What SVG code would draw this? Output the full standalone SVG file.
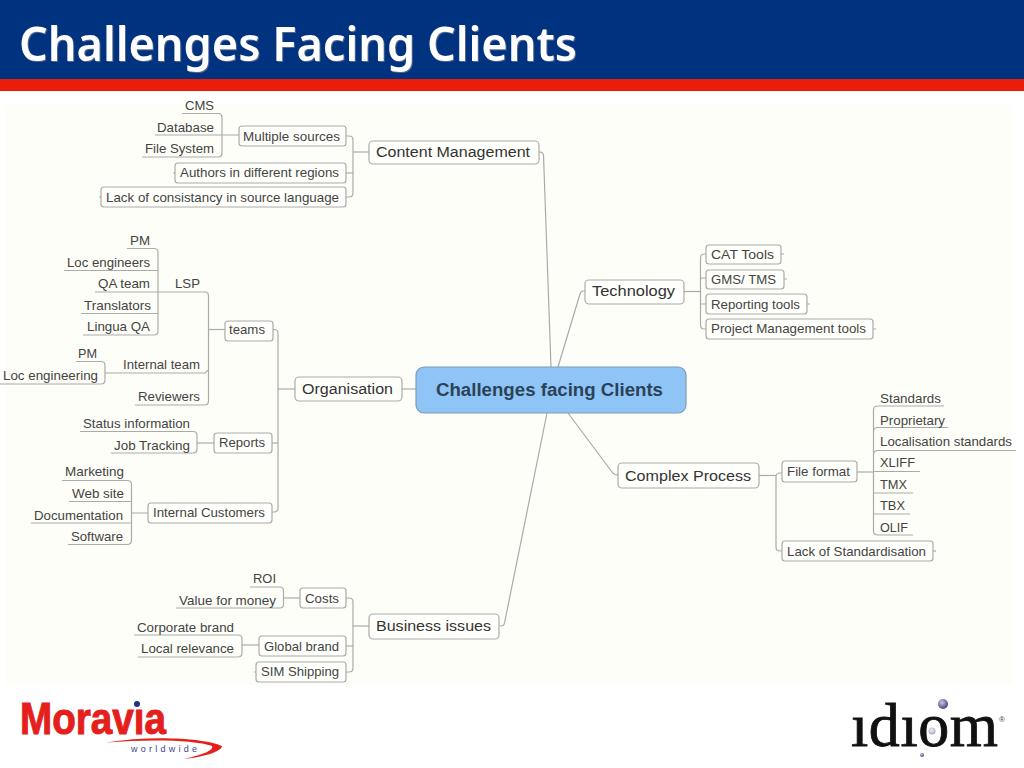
<svg xmlns="http://www.w3.org/2000/svg" width="1024" height="768" viewBox="0 0 1024 768">
<style>
text{font-family:"Liberation Sans",Arial,sans-serif;fill:#444;font-size:13px}
.n rect{fill:#fffffb;stroke:#aaa;stroke-width:1.2}
.m text{font-size:15.5px;fill:#333}
.c path{fill:none;stroke:#aaa;stroke-width:1.2}
</style>
<defs>
<radialGradient id="ball" cx="40%" cy="35%" r="70%"><stop offset="0" stop-color="#c8c8e4"/><stop offset="1" stop-color="#3c3c78"/></radialGradient>
<radialGradient id="ball2" cx="45%" cy="40%" r="70%"><stop offset="0" stop-color="#f2f2f6"/><stop offset="1" stop-color="#9a9ab4"/></radialGradient>
</defs>
<rect width="1024" height="768" fill="#fff"/>
<rect id="panel" x="5" y="105" width="1007" height="580" fill="#fefef8"/>
<rect id="banner" width="1024" height="79" fill="#00337f"/>
<rect id="stripe" y="79" width="1024" height="12" fill="#ec1c0a"/>
<text id="title" x="19" y="61" textLength="558" lengthAdjust="spacingAndGlyphs" style="font-family:'Noto Sans',sans-serif;font-weight:600;font-size:46px;fill:#fff" filter="drop-shadow(1.5px 1.5px 0 #56658f)">Challenges Facing Clients</text>

<g id="connectors" class="c">
<path d="M500 626h1q3 0 3.500-3L547 413"/>
<path d="M539 152h1q3 0 3.500 3L551 367"/>
<path d="M585 291h-2q-2 0-3 3L558 367"/>
<path d="M568 413L612 472q2 3 6 3"/>
<path d="M402 389H416"/>
<path d="M295 389H278"/>
<path d="M369 152H353"/>
<path d="M346 136h3q4 0 4 4V193q0 4-4 4h-3"/>
<path d="M346 173h7"/>
<path d="M175 173h-2M101 197h-2"/>
<path d="M182 113.500h36q4 0 4 4V153q0 4-4 4H142"/>
<path d="M155 135H239"/>
<path d="M127 248.500h27q4 0 4 4V331q0 4-4 4H83"/>
<path d="M64 270.500H158M95 292H204h1q3.500 0 3.500 4V401q0 4-4 4H135M81 313.500H158"/>
<path d="M208.500 329.500H225"/>
<path d="M273 329.500h1q4 0 4 4V508q0 4-4 4h-2"/>
<path d="M272 443h6"/>
<path d="M76 361.500h25q4 0 4 4V380q0 4-4 4H0"/>
<path d="M105 373H205l3.500-3"/>
<path d="M80 431.500H193q4 0 4 4V449q0 4-4 4H111"/>
<path d="M197 443H214"/>
<path d="M62 480.500h65q4.500 0 4.500 4V540q0 4.500-4.500 4.500H68"/>
<path d="M69 501.500H131M31 523H131M132 513H148"/>
<path d="M250 587h30q3.500 0 3.500 4V604q0 4-3.500 4H176"/>
<path d="M284 598H300"/>
<path d="M134 635h104q4 0 4 4V653q0 4-4 4H138"/>
<path d="M242 645H259"/>
<path d="M346 598h3q4 0 4 4V668q0 4-4 4h-3"/>
<path d="M346 646h7"/>
<path d="M353 626H369"/>
<path d="M256 672h-2"/>
<path d="M684 291.500H700"/>
<path d="M706 254h-2q-3.500 0-3.500 4V325q0 4 3.500 4h2"/>
<path d="M700 279q1-1 3-1h3M700 304h6"/>
<path d="M781 254h3M784 279h3M807 304h3M873 329h3"/>
<path d="M759 475.500H776"/>
<path d="M782 473h-2q-4 0-4 4V547q0 4 4 4h2"/>
<path d="M933 551h3"/>
<path d="M857 472H873"/>
<path d="M944 406H878q-4.500 0-4.500 4V531q0 4 4.500 4H913"/>
<path d="M948 427.500H878q-4.500 0-4.500 4"/>
<path d="M1016 450.500H878q-4.500 0-4.500 4"/>
<path d="M920 471.500H873.500M913 493H873.500M910 514H873.500"/>
</g>

<g id="central" class="n"><rect x="416" y="367" width="270" height="46" rx="8" style="fill:#8fc5f6;stroke:#7c9cb8"/><text x="436" y="396" textLength="227" lengthAdjust="spacingAndGlyphs" style="font-size:18px;font-weight:700;fill:#2c4258">Challenges facing Clients</text></g>

<g id="content-management" class="n m"><rect x="369" y="141" width="170" height="23" rx="4"/><text x="376" y="157" textLength="154" lengthAdjust="spacingAndGlyphs">Content Management</text></g>
<g id="organisation" class="n m"><rect x="295" y="377" width="107" height="24" rx="4"/><text x="302" y="394" textLength="91" lengthAdjust="spacingAndGlyphs">Organisation</text></g>
<g id="business-issues" class="n m"><rect x="369" y="614" width="130" height="25" rx="4"/><text x="376" y="631" textLength="115" lengthAdjust="spacingAndGlyphs">Business issues</text></g>
<g id="technology" class="n m"><rect x="585" y="280" width="99" height="24" rx="4"/><text x="592" y="296" textLength="83" lengthAdjust="spacingAndGlyphs">Technology</text></g>
<g id="complex-process" class="n m"><rect x="618" y="463" width="141" height="25" rx="4"/><text x="625" y="481" textLength="126" lengthAdjust="spacingAndGlyphs">Complex Process</text></g>

<g id="multiple-sources" class="n"><rect x="239" y="126" width="107" height="20" rx="3"/><text x="243" y="141" textLength="97" lengthAdjust="spacingAndGlyphs">Multiple sources</text></g>
<g id="authors" class="n"><rect x="175" y="163" width="171" height="20" rx="3"/><text x="180" y="177" textLength="159" lengthAdjust="spacingAndGlyphs">Authors in different regions</text></g>
<g id="lack-consistancy" class="n"><rect x="101" y="187" width="245" height="20" rx="3"/><text x="106" y="202" textLength="233" lengthAdjust="spacingAndGlyphs">Lack of consistancy in source language</text></g>
<g id="teams" class="n"><rect x="225" y="321" width="48" height="20" rx="3"/><text x="229" y="334" textLength="36" lengthAdjust="spacingAndGlyphs">teams</text></g>
<g id="reports" class="n"><rect x="214" y="433" width="58" height="20" rx="3"/><text x="219" y="447" textLength="46" lengthAdjust="spacingAndGlyphs">Reports</text></g>
<g id="internal-customers" class="n"><rect x="148" y="503" width="124" height="20" rx="3"/><text x="153" y="517" textLength="112" lengthAdjust="spacingAndGlyphs">Internal Customers</text></g>
<g id="costs" class="n"><rect x="300" y="588" width="46" height="20" rx="3"/><text x="305" y="603" textLength="34" lengthAdjust="spacingAndGlyphs">Costs</text></g>
<g id="global-brand" class="n"><rect x="259" y="636" width="87" height="20" rx="3"/><text x="264" y="651" textLength="75" lengthAdjust="spacingAndGlyphs">Global brand</text></g>
<g id="sim-shipping" class="n"><rect x="256" y="662" width="90" height="20" rx="3"/><text x="261" y="676" textLength="78" lengthAdjust="spacingAndGlyphs">SIM Shipping</text></g>
<g id="cat-tools" class="n"><rect x="706" y="245" width="75" height="19" rx="3"/><text x="711" y="259" textLength="63" lengthAdjust="spacingAndGlyphs">CAT Tools</text></g>
<g id="gms-tms" class="n"><rect x="706" y="270" width="78" height="19" rx="3"/><text x="711" y="284" textLength="65" lengthAdjust="spacingAndGlyphs">GMS/ TMS</text></g>
<g id="reporting-tools" class="n"><rect x="706" y="294" width="101" height="20" rx="3"/><text x="711" y="309" textLength="89" lengthAdjust="spacingAndGlyphs">Reporting tools</text></g>
<g id="project-management-tools" class="n"><rect x="706" y="319" width="167" height="20" rx="3"/><text x="711" y="333" textLength="155" lengthAdjust="spacingAndGlyphs">Project Management tools</text></g>
<g id="file-format" class="n"><rect x="782" y="461" width="75" height="21" rx="3"/><text x="787" y="476" textLength="63" lengthAdjust="spacingAndGlyphs">File format</text></g>
<g id="lack-standardisation" class="n"><rect x="782" y="541" width="151" height="20" rx="3"/><text x="787" y="556" textLength="139" lengthAdjust="spacingAndGlyphs">Lack of Standardisation</text></g>

<g id="cms"><text x="185" y="110" textLength="29" lengthAdjust="spacingAndGlyphs">CMS</text></g>
<g id="database"><text x="157" y="132" textLength="57" lengthAdjust="spacingAndGlyphs">Database</text></g>
<g id="file-system"><text x="145" y="153" textLength="69" lengthAdjust="spacingAndGlyphs">File System</text></g>
<g id="pm-lsp"><text x="130" y="245" textLength="20" lengthAdjust="spacingAndGlyphs">PM</text></g>
<g id="loc-engineers"><text x="67" y="267" textLength="83" lengthAdjust="spacingAndGlyphs">Loc engineers</text></g>
<g id="qa-team"><text x="98" y="288" textLength="52" lengthAdjust="spacingAndGlyphs">QA team</text></g>
<g id="translators"><text x="84" y="310" textLength="67" lengthAdjust="spacingAndGlyphs">Translators</text></g>
<g id="lingua-qa"><text x="87" y="331" textLength="63" lengthAdjust="spacingAndGlyphs">Lingua QA</text></g>
<g id="lsp"><text x="175" y="288" textLength="25" lengthAdjust="spacingAndGlyphs">LSP</text></g>
<g id="internal-team"><text x="123" y="369" textLength="77" lengthAdjust="spacingAndGlyphs">Internal team</text></g>
<g id="pm-internal"><text x="78" y="358" textLength="19" lengthAdjust="spacingAndGlyphs">PM</text></g>
<g id="loc-engineering"><text x="3" y="380" textLength="95" lengthAdjust="spacingAndGlyphs">Loc engineering</text></g>
<g id="reviewers"><text x="138" y="401" textLength="62" lengthAdjust="spacingAndGlyphs">Reviewers</text></g>
<g id="status-information"><text x="83" y="428" textLength="107" lengthAdjust="spacingAndGlyphs">Status information</text></g>
<g id="job-tracking"><text x="114" y="450" textLength="76" lengthAdjust="spacingAndGlyphs">Job Tracking</text></g>
<g id="marketing"><text x="65" y="476" textLength="59" lengthAdjust="spacingAndGlyphs">Marketing</text></g>
<g id="web-site"><text x="72" y="498" textLength="52" lengthAdjust="spacingAndGlyphs">Web site</text></g>
<g id="documentation"><text x="34" y="520" textLength="89" lengthAdjust="spacingAndGlyphs">Documentation</text></g>
<g id="software"><text x="71" y="541" textLength="52" lengthAdjust="spacingAndGlyphs">Software</text></g>
<g id="roi"><text x="253" y="583" textLength="23" lengthAdjust="spacingAndGlyphs">ROI</text></g>
<g id="value-for-money"><text x="179" y="605" textLength="97" lengthAdjust="spacingAndGlyphs">Value for money</text></g>
<g id="corporate-brand"><text x="137" y="632" textLength="97" lengthAdjust="spacingAndGlyphs">Corporate brand</text></g>
<g id="local-relevance"><text x="141" y="653" textLength="93" lengthAdjust="spacingAndGlyphs">Local relevance</text></g>
<g id="standards"><text x="880" y="403" textLength="61" lengthAdjust="spacingAndGlyphs">Standards</text></g>
<g id="proprietary"><text x="880" y="425" textLength="65" lengthAdjust="spacingAndGlyphs">Proprietary</text></g>
<g id="localisation-standards"><text x="880" y="446" textLength="132" lengthAdjust="spacingAndGlyphs">Localisation standards</text></g>
<g id="xliff"><text x="880" y="467" textLength="35" lengthAdjust="spacingAndGlyphs">XLIFF</text></g>
<g id="tmx"><text x="880" y="489" textLength="27" lengthAdjust="spacingAndGlyphs">TMX</text></g>
<g id="tbx"><text x="880" y="510" textLength="25" lengthAdjust="spacingAndGlyphs">TBX</text></g>
<g id="olif"><text x="880" y="532" textLength="28" lengthAdjust="spacingAndGlyphs">OLIF</text></g>

<g id="moravia-logo">
<text x="20" y="734" textLength="146" lengthAdjust="spacingAndGlyphs" style="font-size:45px;font-weight:700;fill:#e5201c;stroke:#e5201c;stroke-width:1">Moravia</text>
<rect x="130" y="697" width="13" height="11" fill="#fff"/>
<circle cx="137" cy="704" r="3" fill="#1f2f8c"/>
<path d="M106 742.500C150 735 205 738 222 746C222 751 205 757 184 759C205 754 214 750 212 746C195 740 150 739 106 742.500Z" fill="#e5201c"/>
<text x="131" y="752" textLength="66" style="font-size:9px;fill:#3c4490">worldwide</text>
</g>
<g id="idiom-logo">
<text x="851" y="746" textLength="147" style="font-family:'Liberation Serif',serif;font-size:62px;fill:#111;stroke:#111;stroke-width:.8">idiom</text>
<rect x="853" y="699" width="15" height="16" fill="#fff"/><rect x="901" y="699" width="15" height="16" fill="#fff"/>
<circle cx="943" cy="704" r="5" fill="url(#ball)"/>
<circle cx="932" cy="731" r="3.500" fill="url(#ball2)"/>
<circle cx="922" cy="755" r="2" fill="url(#ball)"/>
<text x="999" y="722" style="font-size:8px;fill:#444">®</text>
</g>
</svg>
